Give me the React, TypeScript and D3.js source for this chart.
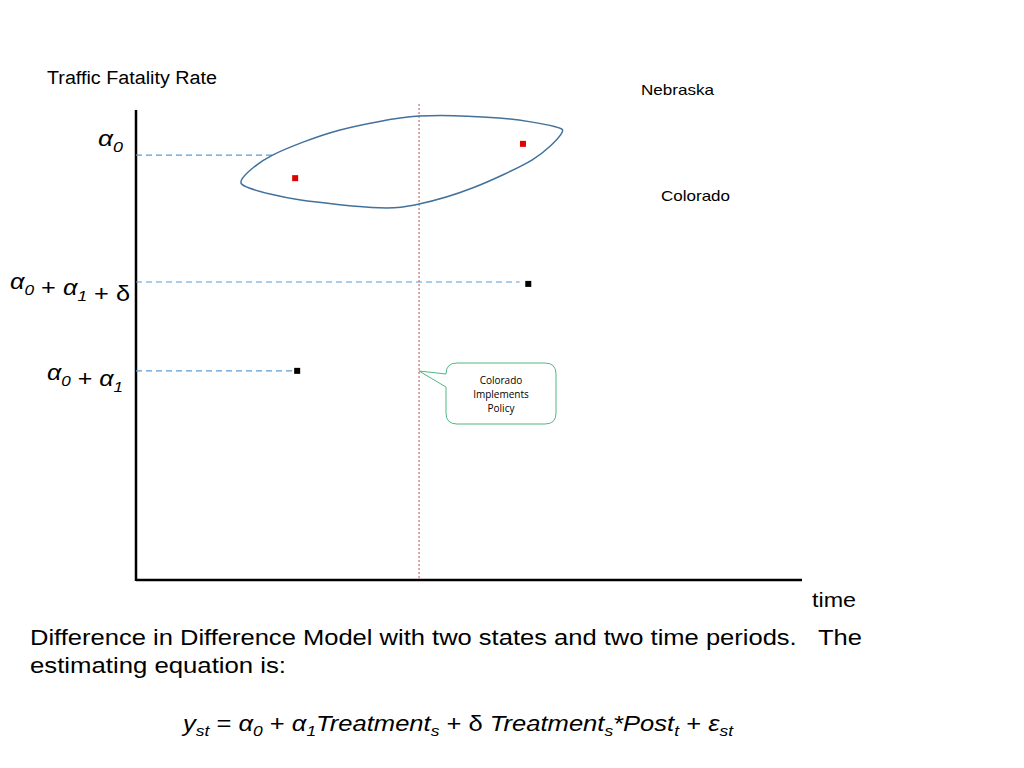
import * as d3 from 'd3';

// time axis positions (0..100) and fatality-rate levels (0..100)
const periods = ['pre', 'post'];
const nebraskaX = [23.9, 58.1];
const nebraskaY = [85.5, 92.8];
const coloradoX = [24.2, 58.9];
const coloradoY = [44.5, 63.0];
const policyX = 42.5;
const levelLabels = ['α0', 'α0 + α1 + δ', 'α0 + α1'];
const levelValues = [90.4, 63.4, 44.5];
const levelEnds = [21.0, 57.6, 23.6];
// closed outline round the Nebraska points
const blobX = [16.0, 20.5, 30.5, 42.5, 54.5, 62.8, 63.8, 59.5, 50.5, 42.5, 36.5, 24.5, 17.0];
const blobY = [85.5, 90.4, 95.7, 98.7, 98.3, 96.5, 94.8, 89.4, 83.4, 80.0, 79.2, 80.9, 83.4];

const W = 1024;
const H = 768;
const x = d3.scaleLinear().domain([0, 100]).range([136, 802]);
const y = d3.scaleLinear().domain([0, 100]).range([580, 110]);

const blob = d3
  .line<number>()
  .x((_d, i) => x(blobX[i]))
  .y(d => y(d))
  .curve(d3.curveCardinalClosed.tension(0.1));

const sans = 'Liberation Sans, Arial, sans-serif';

function LevelLabel({ text, right, ly, len }: { text: string; right: number; ly: number; len: number }) {
  // α with italic subscripts, + and δ plain
  const parts = text.split(' ');
  return (
    <text
      x={right - len}
      y={ly}
      fontFamily={sans}
      fontSize={22}
      textLength={len}
      lengthAdjust="spacingAndGlyphs"
    >
      {parts.map((p, i) => {
        const sp = i > 0 ? ' ' : '';
        if (p.startsWith('α')) {
          return (
            <tspan key={i}>
              <tspan fontStyle="italic">{sp + 'α'}</tspan>
              <tspan fontStyle="italic" fontSize={15} dy={6}>{p.slice(1)}</tspan>
              <tspan dy={-6}></tspan>
            </tspan>
          );
        }
        return <tspan key={i}>{sp + p}</tspan>;
      })}
    </text>
  );
}

export default function App() {
  const ptSize = 6;
  return (
    <svg width={W} height={H} style={{ position: 'absolute', left: 0, top: 0, background: '#fff' }}>
      {/* axes */}
      <line x1={x(0)} x2={x(0)} y1={y(100)} y2={y(0) + 1} stroke="#000" strokeWidth={2.5} />
      <line x1={x(0)} x2={x(100)} y1={y(0)} y2={y(0)} stroke="#000" strokeWidth={2.5} />

      {/* policy line */}
      <line x1={x(policyX)} x2={x(policyX)} y1={104} y2={y(0)} stroke="#c0504d" strokeWidth={1} strokeDasharray="2,2" />

      {/* level guide lines */}
      {levelValues.map((v, i) => (
        <line key={i} x1={x(0)} x2={x(levelEnds[i])} y1={y(v)} y2={y(v)} stroke="#5b9bd5" strokeWidth={1.2} strokeDasharray="6,4" />
      ))}

      <path d={blob(blobY) ?? ''} fill="none" stroke="#41719c" strokeWidth={1.5} />

      {periods.map((p, i) => (
        <g key={p}>
          <rect x={x(nebraskaX[i]) - ptSize / 2} y={y(nebraskaY[i]) - ptSize / 2} width={ptSize} height={ptSize} fill="#e00000" />
          <rect x={x(coloradoX[i]) - ptSize / 2} y={y(coloradoY[i]) - ptSize / 2} width={ptSize} height={ptSize} fill="#000" />
        </g>
      ))}

      {/* level labels */}
      <LevelLabel text={levelLabels[0]} right={123} ly={146} len={25} />
      <LevelLabel text={levelLabels[1]} right={130} ly={289} len={120} />
      <LevelLabel text={levelLabels[2]} right={123} ly={380} len={76} />

      <text x={47} y={84} fontFamily={sans} fontSize={18} textLength={170} lengthAdjust="spacingAndGlyphs">Traffic Fatality Rate</text>
      <text x={641} y={95} fontFamily={sans} fontSize={15} textLength={73} lengthAdjust="spacingAndGlyphs">Nebraska</text>
      <text x={661} y={201} fontFamily={sans} fontSize={15} textLength={69} lengthAdjust="spacingAndGlyphs">Colorado</text>
      <text x={812} y={607} fontFamily={sans} fontSize={20} textLength={44} lengthAdjust="spacingAndGlyphs">time</text>

      {/* callout */}
      <path
        d="M457,363 H545 Q556,363 556,374 V413 Q556,424 545,424 H457 Q446,424 446,413 V387 L419,371 L446,374 Q446,363 457,363 Z"
        fill="#fff"
        stroke="#4fb884"
        strokeWidth={1}
      />
      <text x={501} y={384} textAnchor="middle" fontFamily="Open Sans, sans-serif" fontSize={10}>Colorado</text>
      <text x={501} y={398} textAnchor="middle" fontFamily="Open Sans, sans-serif" fontSize={10}>Implements</text>
      <text x={501} y={412} textAnchor="middle" fontFamily="Open Sans, sans-serif" fontSize={10}>Policy</text>

      {/* caption */}
      <text x={30} y={645} fontFamily={sans} fontSize={22} textLength={832} lengthAdjust="spacingAndGlyphs">
        Difference in Difference Model with two states and two time periods.{'\u00a0\u00a0\u00a0'}The
      </text>
      <text x={30} y={673} fontFamily={sans} fontSize={22} textLength={256} lengthAdjust="spacingAndGlyphs">estimating equation is:</text>

      <text x={183} y={731} fontFamily={sans} fontSize={22} textLength={550} lengthAdjust="spacingAndGlyphs">
        <tspan fontStyle="italic">y</tspan>
        <tspan fontStyle="italic" fontSize={15} dy={5}>st</tspan>
        <tspan dy={-5}> = </tspan>
        <tspan fontStyle="italic">α</tspan>
        <tspan fontStyle="italic" fontSize={15} dy={5}>0</tspan>
        <tspan dy={-5}> + </tspan>
        <tspan fontStyle="italic">α</tspan>
        <tspan fontStyle="italic" fontSize={15} dy={5}>1</tspan>
        <tspan fontStyle="italic" dy={-5}>Treatment</tspan>
        <tspan fontStyle="italic" fontSize={15} dy={5}>s</tspan>
        <tspan dy={-5}> + δ </tspan>
        <tspan fontStyle="italic">Treatment</tspan>
        <tspan fontStyle="italic" fontSize={15} dy={5}>s</tspan>
        <tspan fontStyle="italic" dy={-5}>*Post</tspan>
        <tspan fontStyle="italic" fontSize={15} dy={5}>t</tspan>
        <tspan dy={-5}> + </tspan>
        <tspan fontStyle="italic">ε</tspan>
        <tspan fontStyle="italic" fontSize={15} dy={5}>st</tspan>
      </text>
    </svg>
  );
}
